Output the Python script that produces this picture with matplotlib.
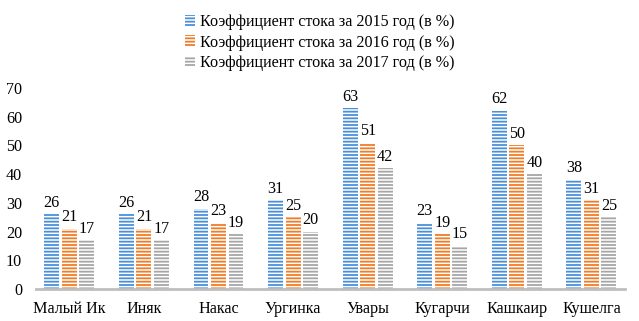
import numpy as np
import matplotlib.pyplot as plt
from matplotlib.patches import Patch

plt.rcParams['font.family'] = ['Liberation Serif', 'DejaVu Serif']
plt.rcParams['hatch.linewidth'] = 1.3

rivers = ['Малый Ик', 'Иняк', 'Накас', 'Ургинка', 'Увары', 'Кугарчи', 'Кашкаир', 'Кушелга']
k2015 = [26, 26, 28, 31, 63, 23, 62, 38]
k2016 = [21, 21, 23, 25, 51, 19, 50, 31]
k2017 = [17, 17, 19, 20, 42, 15, 40, 25]
series_names = ['Коэффициент стока за 2015 год (в %)',
                'Коэффициент стока за 2016 год (в %)',
                'Коэффициент стока за 2017 год (в %)']
colors = ['#4a90d9', '#f07c28', '#a6a6a6']
fs = 11.6

fig = plt.figure(figsize=(6.39, 3.21), dpi=100)
ax = fig.add_axes([0.056, 0.0997, 0.922, 0.6263])

x = np.arange(len(rivers))
w = 0.2
step = 0.235
for i, (vals, col) in enumerate(zip([k2015, k2016, k2017], colors)):
    pos = x + (i - 1) * step
    ax.bar(pos, vals, w, facecolor='white', edgecolor=col, hatch='-----', linewidth=0)
    for p, v in zip(pos, vals):
        ax.text(p, v + 1.2, str(v), ha='center', va='bottom', fontsize=fs)

ax.set_xlim(-0.45, len(rivers) - 0.55)
ax.set_ylim(0, 70)
ax.set_yticks(range(0, 71, 10))
ax.set_xticks(x)
ax.set_xticklabels(rivers)
ax.tick_params(length=0, labelsize=fs)
ax.tick_params(axis='x', pad=9)
ax.tick_params(axis='y', pad=10)
for s in ['top', 'right', 'left']:
    ax.spines[s].set_visible(False)
ax.spines['bottom'].set_color('#bfbfbf')
ax.spines['bottom'].set_linewidth(2)

handles = [Patch(facecolor='white', edgecolor=c, hatch='-----', linewidth=0) for c in colors]
fig.legend(handles, series_names, loc='upper center', bbox_to_anchor=(0.5, 1.0),
           ncol=1, frameon=False, fontsize=fs, handlelength=0.65, handleheight=0.65,
           handletextpad=0.3, labelspacing=0.25)

fig.savefig('out.png', dpi=100)
